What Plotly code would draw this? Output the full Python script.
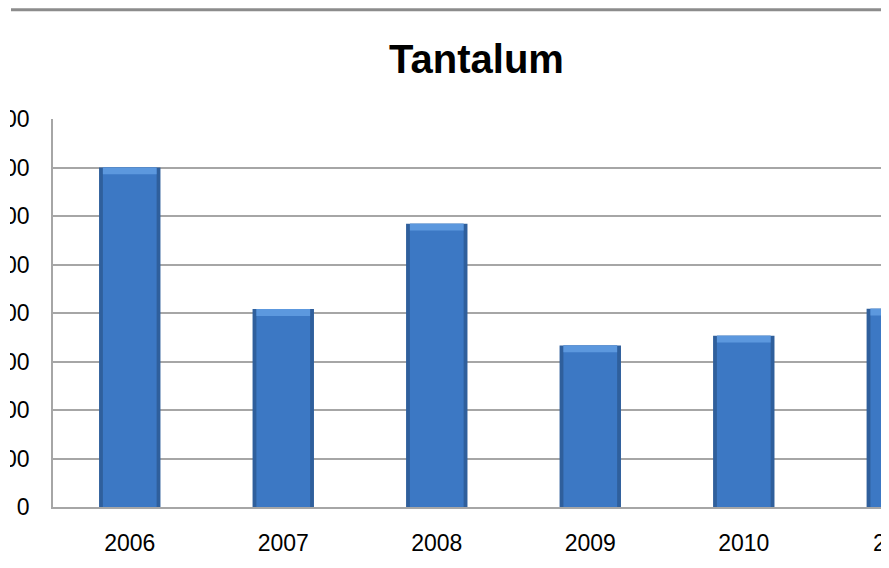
import plotly.graph_objects as go

years = ["2006", "2007", "2008", "2009", "2010", "2011"]
values = [700, 408, 584, 333, 353, 409]
y_ticks = [0, 100, 200, 300, 400, 500, 600, 700, 800]
title_text = "Tantalum"

FONT = "Liberation Sans"
xpos = list(range(len(years)))

# page has an 8px body margin; figure is sized/placed to compensate
OFF = 8
W, H = 881, 560
ML, MT = 53 - OFF, 119 - OFF
MB = H - (507.5 - OFF)
PW = W - ML
PH = H - MT - MB
XMAX = 4.946

fig = go.Figure()
# dark outline / edge
fig.add_trace(go.Bar(x=xpos, y=values, width=0.4, marker=dict(color="#2F5F9C", line=dict(width=0)),
                     hoverinfo="skip"))
# main body
fig.add_trace(go.Bar(x=xpos, y=values, width=0.35, marker=dict(color="#3C78C4", line=dict(width=0)),
                     hoverinfo="skip"))
# light top bevel
cap = 14
fig.add_trace(go.Bar(x=xpos, y=[cap] * len(values), base=[v - cap for v in values], width=0.35,
                     marker=dict(color="#5C98DE", line=dict(width=0)), hoverinfo="skip"))

fig.update_layout(
    width=W, height=H,
    margin=dict(l=ML, r=0, t=MT, b=MB, autoexpand=False),
    barmode="overlay",
    showlegend=False,
    plot_bgcolor="white", paper_bgcolor="white",
    title=dict(text="<b>" + title_text + "</b>", x=(476.5 - OFF) / W, xref="container", xanchor="center",
               y=1 - (58.5 - OFF) / H, yref="container", yanchor="middle",
               font=dict(family=FONT, size=40, color="#000000")),
    xaxis=dict(range=[-0.5, XMAX], tickmode="array", tickvals=xpos, ticktext=years,
               showgrid=False, zeroline=False, showline=True, linecolor="#A6A6A6", linewidth=1.5,
               ticks="", tickfont=dict(family=FONT, size=23, color="#000000"),
               ticklabelstandoff=15, automargin=False),
    yaxis=dict(range=[0, 800], tickmode="array", tickvals=y_ticks,
               showgrid=True, gridcolor="#A6A6A6", gridwidth=1.5, zeroline=False,
               showline=True, linecolor="#A6A6A6", linewidth=1.5,
               ticks="", tickfont=dict(family=FONT, size=23, color="#000000"),
               ticklabelstandoff=17, automargin=False),
    shapes=[
        dict(type="line", xref="paper", yref="paper", x0=(11 - 53) / PW, x1=1.05,
             y0=1 + (MT - 1.5) / PH, y1=1 + (MT - 1.5) / PH,
             line=dict(color="#8C8C8C", width=3), layer="above"),
        dict(type="rect", xref="paper", yref="paper", x0=-ML / PW, x1=(10 - 53) / PW,
             y0=-0.1, y1=1.1, fillcolor="white", line=dict(width=0), layer="above"),
    ],
    annotations=[
        dict(x=(5 + 0.5) / (XMAX + 0.5), y=0, xref="paper", yref="paper", text=years[5],
             showarrow=False, yanchor="top", xanchor="center",
             yshift=-21, font=dict(family=FONT, size=23, color="#000000")),
    ],
)

fig.write_html("out.html")
